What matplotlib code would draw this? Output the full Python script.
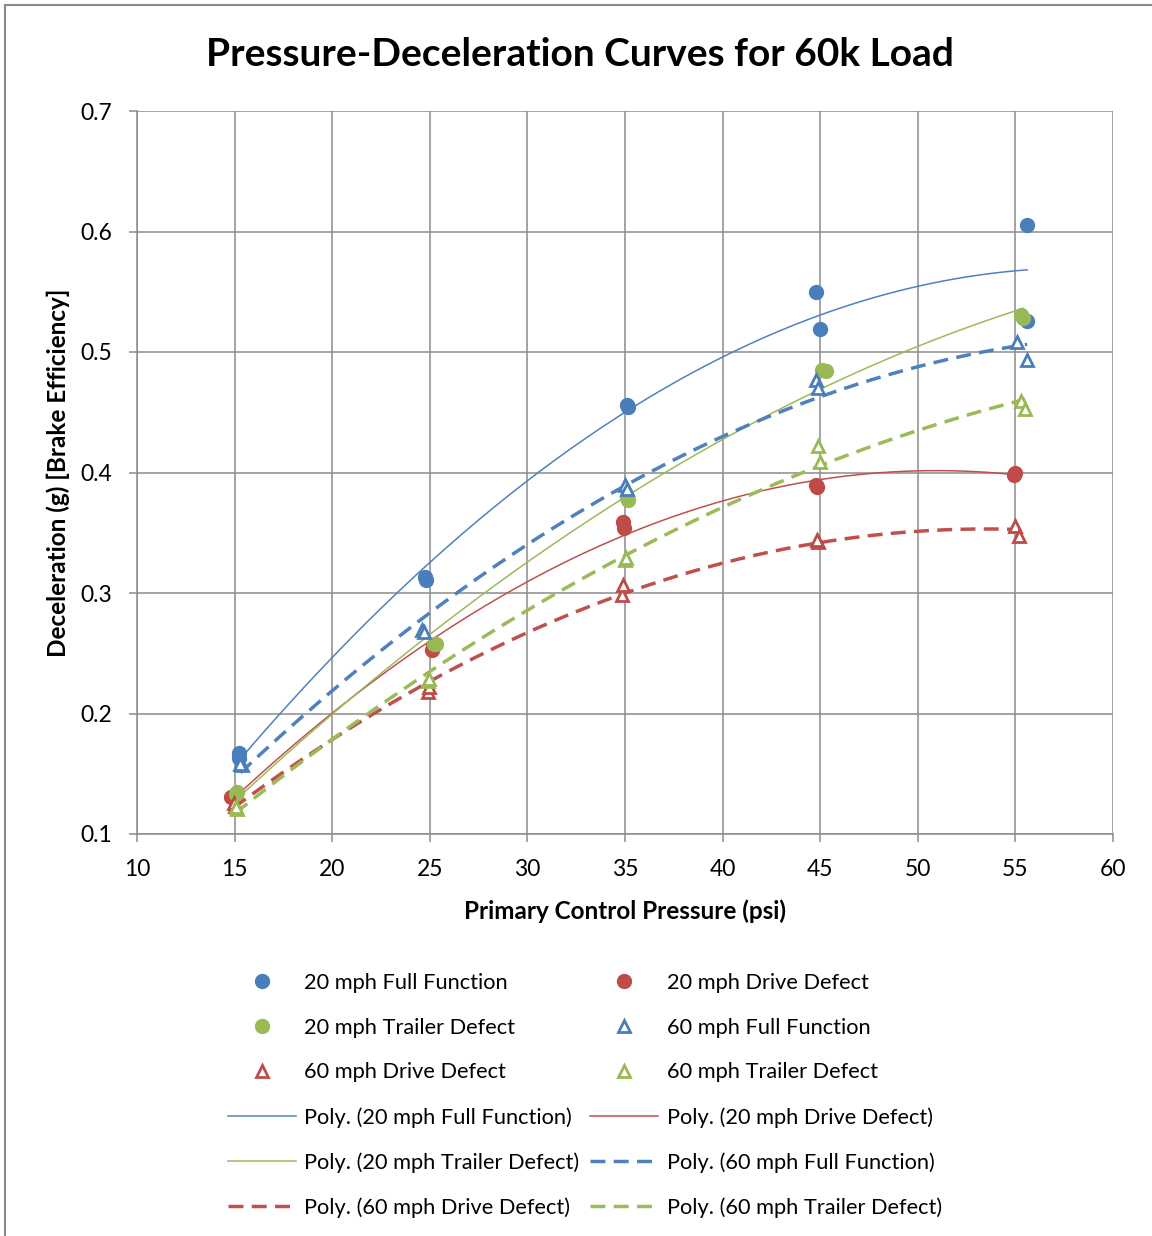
import numpy as np
import matplotlib
matplotlib.use("Agg")
import matplotlib.pyplot as plt
from matplotlib.lines import Line2D

plt.rcParams['font.family'] = ['Lato', 'DejaVu Sans']

# ---- data ----
ff20_x = [15.2, 15.2, 24.75, 24.8, 35.1, 35.15, 44.8, 45.0, 55.6, 55.6]
ff20_y = [0.167, 0.163, 0.313, 0.311, 0.456, 0.454, 0.550, 0.519, 0.605, 0.526]

dd20_x = [14.8, 15.0, 25.1, 25.15, 34.9, 34.95, 44.8, 44.85, 55.0, 54.95]
dd20_y = [0.131, 0.130, 0.253, 0.256, 0.359, 0.354, 0.390, 0.388, 0.400, 0.398]

td20_x = [15.1, 15.05, 25.2, 25.3, 35.1, 35.15, 45.1, 45.3, 55.3, 55.4]
td20_y = [0.135, 0.133, 0.258, 0.258, 0.380, 0.377, 0.485, 0.484, 0.531, 0.528]

ff60_x = [15.4, 15.3, 24.6, 24.7, 35.0, 35.1, 44.8, 44.9, 55.1, 55.6]
ff60_y = [0.157, 0.158, 0.269, 0.268, 0.390, 0.386, 0.477, 0.470, 0.508, 0.493]

dd60_x = [15.0, 14.95, 24.9, 24.95, 34.85, 34.9, 44.9, 44.85, 55.0, 55.2]
dd60_y = [0.123, 0.126, 0.218, 0.222, 0.298, 0.307, 0.342, 0.344, 0.356, 0.347]

td60_x = [15.1, 15.05, 24.9, 24.95, 35.0, 35.05, 44.9, 45.0, 55.3, 55.5]
td60_y = [0.121, 0.122, 0.227, 0.229, 0.327, 0.329, 0.422, 0.409, 0.459, 0.453]

labels = ["20 mph Full Function", "20 mph Drive Defect", "20 mph Trailer Defect",
          "60 mph Full Function", "60 mph Drive Defect", "60 mph Trailer Defect"]

x_ticks = [10, 15, 20, 25, 30, 35, 40, 45, 50, 55, 60]
y_ticks = [0.1, 0.2, 0.3, 0.4, 0.5, 0.6, 0.7]

BLUE = "#4A7EBB"
RED = "#BE4B48"
GREEN = "#98B954"
LBLUE = "#4F81BD"
LRED = "#C0504D"
LGREEN = "#9BBB59"

W, H = 1152, 1236
fig = plt.figure(figsize=(W / 100, H / 100), dpi=100)
ax = fig.add_axes([137 / W, 1 - 834 / H, (1113 - 137) / W, (834 - 111) / H])

# frame of the chart
fig.add_artist(Line2D([5 / W, 5 / W], [0, 1 - 5 / H], color="#8a8a8a", lw=1.5, transform=fig.transFigure))
fig.add_artist(Line2D([5 / W, 1], [1 - 5 / H, 1 - 5 / H], color="#8a8a8a", lw=1.5, transform=fig.transFigure))

series = [
    (ff20_x, ff20_y, BLUE, LBLUE, 'o', False),
    (dd20_x, dd20_y, RED, LRED, 'o', False),
    (td20_x, td20_y, GREEN, LGREEN, 'o', False),
    (ff60_x, ff60_y, BLUE, LBLUE, '^', True),
    (dd60_x, dd60_y, RED, LRED, '^', True),
    (td60_x, td60_y, GREEN, LGREEN, '^', True),
]

marker_handles = []
trend_handles = []
for (xs, ys, mc, lc, mk, hollow), lab in zip(series, labels):
    if hollow:
        h, = ax.plot(xs, ys, linestyle='none', marker=mk, markersize=9,
                     markerfacecolor='white', markeredgecolor=mc, markeredgewidth=2.0,
                     zorder=4, label=lab)
    else:
        h, = ax.plot(xs, ys, linestyle='none', marker=mk, markersize=10,
                     markerfacecolor=mc, markeredgecolor=mc, zorder=4, label=lab)
    marker_handles.append(h)
    coef = np.polyfit(xs, ys, 2)
    xx = np.linspace(min(xs), max(xs), 200)
    if hollow:
        t, = ax.plot(xx, np.polyval(coef, xx), color=lc, lw=2.5,
                     linestyle=(0, (4.3, 2.4)), zorder=3, label=f"Poly. ({lab})")
    else:
        t, = ax.plot(xx, np.polyval(coef, xx), color=lc, lw=1.1, zorder=3,
                     label=f"Poly. ({lab})")
    trend_handles.append(t)

ax.set_xlim(10, 60)
ax.set_ylim(0.1, 0.7)
ax.set_xticks(x_ticks)
ax.set_yticks(y_ticks)
ax.set_yticklabels([f"{v:.1f}" for v in y_ticks])
ax.grid(True, color="#8c8c8c", lw=1.1)
ax.set_axisbelow(True)
for s in ['top', 'right']:
    ax.spines[s].set_visible(False)
for s in ['left', 'bottom']:
    ax.spines[s].set_color("#8c8c8c")
    ax.spines[s].set_linewidth(1.1)
ax.tick_params(axis='both', direction='out', length=6, width=1.1, color="#8c8c8c",
               labelsize=16.5, pad=12)

ax.set_xlabel("Primary Control Pressure (psi)", fontsize=17.5, fontweight='bold', labelpad=14)
ax.set_ylabel("Deceleration (g) [Brake Efficiency]", fontsize=17.5, fontweight='bold', labelpad=7)
fig.text(580 / W, 1 - 54 / H, "Pressure-Deceleration Curves for 60k Load",
         ha='center', va='center', fontsize=28, fontweight='bold')

all_handles = marker_handles + trend_handles
all_labels = [h.get_label() for h in all_handles]
order = list(range(0, 12, 2)) + list(range(1, 12, 2))
leg = fig.legend([all_handles[i] for i in order], [all_labels[i] for i in order],
                 ncol=2, loc='upper left', bbox_to_anchor=(228 / W, 1 - 973 / H),
                 frameon=False, fontsize=15.7, handlelength=3.1, handletextpad=0.4,
                 labelspacing=1.13, columnspacing=0.5, borderaxespad=0, borderpad=0)

fig.savefig("out.png", dpi=100)
